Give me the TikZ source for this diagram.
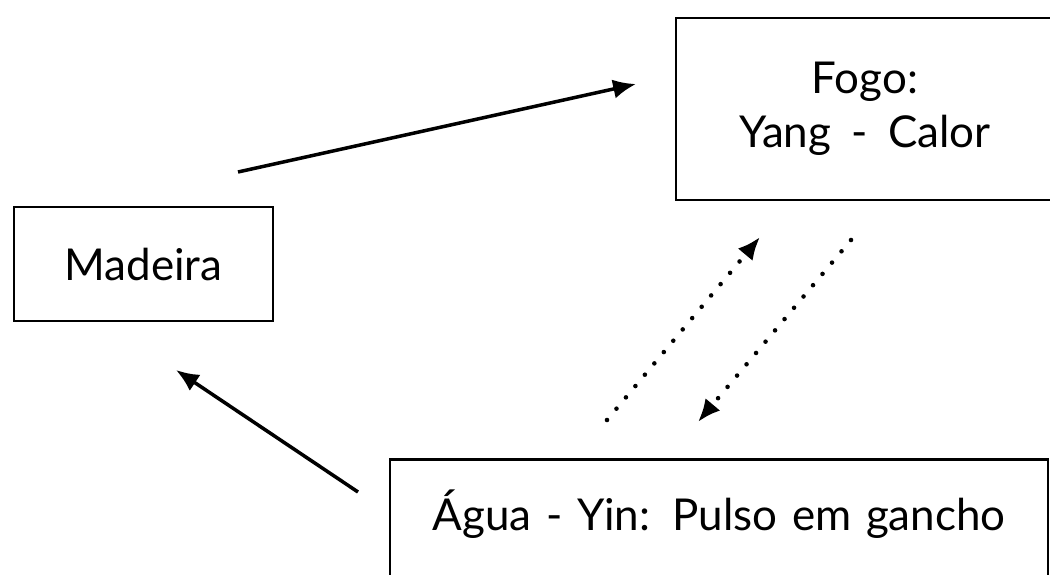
\documentclass[tikz,border=0pt]{standalone}
\usepackage{fontspec}
\setmainfont[WordSpace={1.8}]{Lato}
\usetikzlibrary{arrows.meta}
\begin{document}
\begin{tikzpicture}[x=0.02cm, y=-0.02cm, box/.style = {draw, line width=1.6pt, inner sep=0pt, font=\fontsize{25}{31}\selectfont}, flow/.style = {line width=2pt, -{Latex[length=13pt, width=11pt]}}, dotflow/.style = {line width=2.6pt, line cap=round, dash pattern=on 0pt off 8.4pt, -{Latex[length=13pt, width=11pt]}}]
		\clip (0,0) rectangle (1050,574);
		
		\node[box, minimum width=5.18cm, minimum height=2.28cm] (madeira) at (143.5,264) {Madeira};
		\node[box, minimum width=7.56cm, minimum height=3.64cm, align=center] (fogo) at (865,109) {Fogo:\\Yang - Calor};
		\node[box, anchor=base, text width=13.16cm, align=center, text height=40.3pt, text depth=40pt] (agua) at (719,530) {Água - Yin: Pulso em gancho};
		
		\coordinate (0) at (238,172);
		\coordinate (1) at (636,84);
		\coordinate (2) at (358,492);
		\coordinate (3) at (176,370);
		\coordinate (4) at (607,420);
		\coordinate (5) at (760,237);
		\coordinate (6) at (851,240);
		\coordinate (7) at (698,422);
		
		\draw[flow] (0) -- (1);
		\draw[flow] (2) -- (3);
		\draw[dotflow] (4) -- (5);
		\draw[dotflow] (6) -- (7);
	\end{tikzpicture}
\end{document}
